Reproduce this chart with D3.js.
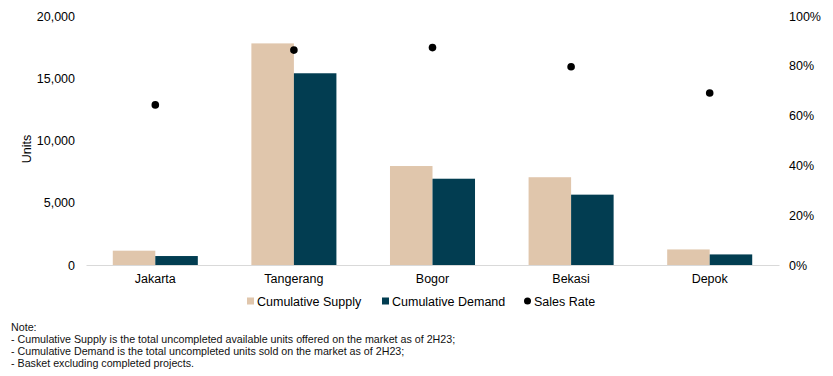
<!DOCTYPE html>
<html>
<head>
<meta charset="utf-8">
<script src="https://cdn.jsdelivr.net/npm/d3@7"></script>
<style>
  body { margin: 0; background: #fff; }
  text { font-family: "Liberation Sans", Arial, sans-serif; }
</style>
</head>
<body>
<div id="chart"></div>
<script>
/* Supply, demand and sales rate by area */

const cities = ["Jakarta", "Tangerang", "Bogor", "Bekasi", "Depok"];
const supply = [1150, 17800, 7950, 7050, 1250];
const demand = [720, 15400, 6930, 5650, 850];
const salesRate = [0.643, 0.863, 0.873, 0.796, 0.691]; // share of supply sold
const unitTicks = [0, 5000, 10000, 15000, 20000];
const rateTicks = [0, 0.2, 0.4, 0.6, 0.8, 1];
const seriesNames = ["Cumulative Supply", "Cumulative Demand"];
const notes = [
    "Note:",
    "- Cumulative Supply is the total uncompleted available units offered on the market as of 2H23;",
    "- Cumulative Demand is the total uncompleted units sold on the market as of 2H23;",
    "- Basket excluding completed projects."
];

const width = 833,
      height = 376,
      margin = ({ top: 16, right: 54, bottom: 111, left: 86 });

const colors = { "Cumulative Supply": "#e0c6ac", "Cumulative Demand": "#023d51" };

let svg = d3.select("#chart")
    .append("svg")
    .attr("width", width)
    .attr("height", height);

let data = cities.map((c, i) => ({
    city: c,
    values: [
        { key: seriesNames[0], num: supply[i] },
        { key: seriesNames[1], num: demand[i] }
    ],
    rate: salesRate[i]
}));

/* Scales */
let x = d3.scaleBand()
    .domain(cities)
    .range([margin.left, width - margin.right]);

let x1 = d3.scaleBand()
    .domain(seriesNames)
    .range([0, x.bandwidth()])
    .paddingOuter(0.63);

let y = d3.scaleLinear()
    .domain([0, 20000])
    .range([height - margin.bottom, margin.top]);

let y2 = d3.scaleLinear()
    .domain([0, 1])
    .range([height - margin.bottom, margin.top]);

/* Axes */
let yAxis = svg.append("g")
    .attr("transform", `translate(${margin.left},0)`)
    .call(d3.axisLeft(y).tickValues(unitTicks).tickSize(0).tickPadding(11).tickFormat(d3.format(",")));
yAxis.select(".domain").remove();

let y2Axis = svg.append("g")
    .attr("transform", `translate(${width - margin.right},0)`)
    .call(d3.axisRight(y2).tickValues(rateTicks).tickSize(0).tickPadding(10).tickFormat(d3.format(".0%")));
y2Axis.select(".domain").remove();

/* Bars */
let group = svg.selectAll(".city")
    .data(data)
    .join("g")
    .attr("class", "city")
    .attr("transform", d => `translate(${x(d.city)},0)`);

group.selectAll("rect")
    .data(d => d.values)
    .join("rect")
    .attr("x", d => x1(d.key))
    .attr("width", x1.bandwidth())
    .attr("y", d => y(d.num))
    .attr("height", d => y(0) - y(d.num))
    .attr("fill", d => colors[d.key]);

let xAxis = svg.append("g")
    .attr("transform", `translate(0,${height - margin.bottom})`)
    .call(d3.axisBottom(x).tickSize(0).tickPadding(9));
xAxis.select(".domain").attr("stroke", "#d9d9d9");

svg.selectAll(".tick text")
    .attr("fill", "#000")
    .style("font-size", "12.5px")
    .style("font-family", "'Liberation Sans', Arial, sans-serif");

/* Sales rate dots */
svg.selectAll(".dot")
    .data(data)
    .join("circle")
    .attr("class", "dot")
    .attr("cx", d => x(d.city) + x.bandwidth() / 2)
    .attr("cy", d => y2(d.rate))
    .attr("r", 3.8)
    .attr("fill", "#000");

/* Y label */
svg.append("text")
    .attr("transform", "translate(31,149) rotate(-90)")
    .attr("text-anchor", "middle")
    .style("font-size", "12.5px")
    .text("Units");

/* Legend */
let legend = svg.append("g").attr("transform", "translate(0,301)");
let items = [
    { label: seriesNames[0], x: 247, type: "rect" },
    { label: seriesNames[1], x: 382, type: "rect" },
    { label: "Sales Rate", x: 524, type: "dot" }
];
items.forEach(it => {
    if (it.type === "rect") {
        legend.append("rect")
            .attr("x", it.x)
            .attr("y", -3.5)
            .attr("width", 7)
            .attr("height", 7)
            .attr("fill", colors[it.label]);
    } else {
        legend.append("circle")
            .attr("cx", it.x + 3.5)
            .attr("cy", 0)
            .attr("r", 3.5)
            .attr("fill", "#000");
    }
    legend.append("text")
        .attr("x", it.x + 10)
        .attr("y", 4.5)
        .style("font-size", "12.5px")
        .text(it.label);
});

/* Notes */
svg.append("g")
    .selectAll("text")
    .data(notes)
    .join("text")
    .attr("x", 11)
    .attr("y", (d, i) => 331 + i * 12)
    .style("font-size", "10.7px")
    .attr("fill", "#111")
    .text(d => d);
</script>
</body>
</html>
